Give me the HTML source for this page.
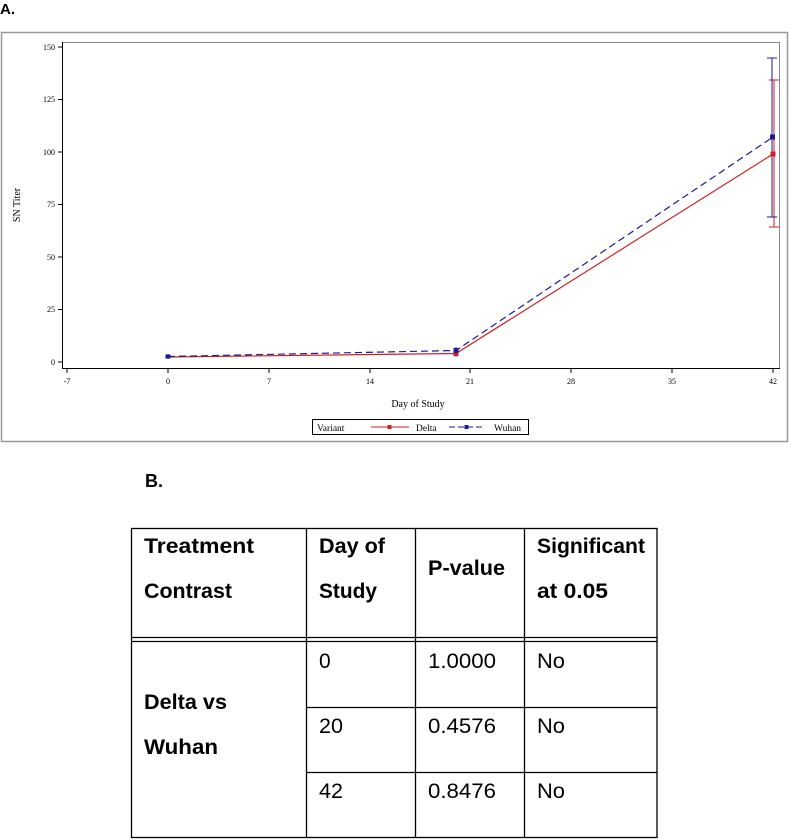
<!DOCTYPE html>
<html><head><meta charset="utf-8"><style>
html,body{margin:0;padding:0;background:#fff;}
svg{display:block;}
</style></head><body>
<svg width="790" height="839" viewBox="0 0 790 839" xmlns="http://www.w3.org/2000/svg">
<text x="0" y="14" font-family="Liberation Sans, sans-serif" font-weight="bold" font-size="15" fill="#000">A.</text>
<rect x="1.5" y="32.5" width="786" height="409" fill="none" stroke="#999" stroke-width="1.5"/>
<rect x="62.5" y="42.5" width="717" height="326" fill="none" stroke="#888" stroke-width="1"/>
<line x1="62.5" y1="42" x2="62.5" y2="369" stroke="#000"/>
<line x1="62" y1="368.5" x2="780" y2="368.5" stroke="#000"/>
<g font-family="Liberation Serif, serif" font-size="8" fill="#000">
<g stroke="#000">
<line x1="58" y1="47" x2="62" y2="47"/><line x1="58" y1="99.5" x2="62" y2="99.5"/><line x1="58" y1="152" x2="62" y2="152"/><line x1="58" y1="204.5" x2="62" y2="204.5"/><line x1="58" y1="257" x2="62" y2="257"/><line x1="58" y1="309.5" x2="62" y2="309.5"/><line x1="58" y1="362" x2="62" y2="362"/>
<line x1="67" y1="369" x2="67" y2="373"/><line x1="168" y1="369" x2="168" y2="373"/><line x1="269" y1="369" x2="269" y2="373"/><line x1="370" y1="369" x2="370" y2="373"/><line x1="470" y1="369" x2="470" y2="373"/><line x1="571" y1="369" x2="571" y2="373"/><line x1="672" y1="369" x2="672" y2="373"/><line x1="773" y1="369" x2="773" y2="373"/>
</g>
<g text-anchor="end"><text x="55" y="50">150</text><text x="55" y="102">125</text><text x="55" y="155">100</text><text x="55" y="207">75</text><text x="55" y="260">50</text><text x="55" y="312">25</text><text x="55" y="365">0</text></g>
<g text-anchor="middle"><text x="67" y="384">-7</text><text x="168" y="384">0</text><text x="269" y="384">7</text><text x="370" y="384">14</text><text x="470" y="384">21</text><text x="571" y="384">28</text><text x="672" y="384">35</text><text x="773" y="384">42</text></g>
<text x="418" y="407" text-anchor="middle" font-size="10">Day of Study</text>
<text transform="translate(20,205) rotate(-90)" text-anchor="middle" font-size="10">SN Titer</text>
</g>
<polyline points="168,357 456,353.5 773,154" fill="none" stroke="#d02020" stroke-width="1.2"/>
<polyline points="168,356.5 456,350.5 773,137" fill="none" stroke="#1a1a9a" stroke-width="1.2" stroke-dasharray="7,4"/>
<g stroke="#d02020" stroke-width="1"><line x1="774" y1="80" x2="774" y2="227"/><line x1="769" y1="80" x2="779" y2="80"/><line x1="769" y1="227" x2="779" y2="227"/><line x1="456" y1="350" x2="456" y2="357"/></g>
<g stroke="#1a1a9a" stroke-width="1"><line x1="772" y1="58" x2="772" y2="217"/><line x1="767" y1="58" x2="777" y2="58"/><line x1="767" y1="217" x2="777" y2="217"/><line x1="456" y1="347" x2="456" y2="354"/><line x1="168" y1="354" x2="168" y2="359"/></g>
<rect x="453.5" y="351" width="5" height="5" fill="#d02020"/><rect x="453.5" y="348" width="5" height="5" fill="#1a1a9a"/>
<rect x="165.5" y="354.5" width="5" height="4" fill="#1a1a9a"/>
<rect x="770.5" y="151.5" width="5" height="5" fill="#d02020"/><rect x="770" y="134.5" width="5" height="5" fill="#1a1a9a"/>
<rect x="312.5" y="419.5" width="216" height="15" fill="#fff" stroke="#000"/>
<g font-family="Liberation Serif, serif" font-size="9.5" fill="#000">
<text x="317" y="431">Variant</text><text x="416" y="431">Delta</text><text x="494" y="431">Wuhan</text>
</g>
<line x1="371" y1="427" x2="409" y2="427" stroke="#d02020"/><rect x="387.5" y="425" width="4" height="4" fill="#d02020"/>
<line x1="449" y1="427" x2="484" y2="427" stroke="#1a1a9a" stroke-dasharray="6,3"/><rect x="464.5" y="425" width="4" height="4" fill="#1a1a9a"/>
<text x="145" y="487" font-family="Liberation Sans, sans-serif" font-weight="bold" font-size="18">B.</text>
<g stroke="#000" stroke-width="1.3" fill="none">
<rect x="131.5" y="528.5" width="525.5" height="309"/>
<line x1="306.5" y1="528" x2="306.5" y2="838"/><line x1="415.5" y1="528" x2="415.5" y2="838"/><line x1="524.5" y1="528" x2="524.5" y2="838"/>
<line x1="131" y1="637.5" x2="657" y2="637.5"/><line x1="131" y1="641.5" x2="657" y2="641.5"/>
<line x1="306" y1="707.5" x2="657" y2="707.5"/><line x1="306" y1="772.5" x2="657" y2="772.5"/>
</g>
<g font-family="Liberation Sans, sans-serif" font-size="21" fill="#000" lengthAdjust="spacingAndGlyphs">
<g font-weight="bold">
<text x="144" y="553" textLength="110" lengthAdjust="spacingAndGlyphs">Treatment</text><text x="144" y="598" textLength="88" lengthAdjust="spacingAndGlyphs">Contrast</text>
<text x="319" y="553" textLength="66" lengthAdjust="spacingAndGlyphs">Day of</text><text x="319" y="598" textLength="58" lengthAdjust="spacingAndGlyphs">Study</text>
<text x="428" y="575" textLength="77" lengthAdjust="spacingAndGlyphs">P-value</text>
<text x="537" y="553" textLength="108" lengthAdjust="spacingAndGlyphs">Significant</text><text x="537" y="598" textLength="71" lengthAdjust="spacingAndGlyphs">at 0.05</text>
<text x="144" y="709" textLength="83" lengthAdjust="spacingAndGlyphs">Delta vs</text><text x="144" y="754" textLength="74" lengthAdjust="spacingAndGlyphs">Wuhan</text>
</g>
<text x="319" y="668">0</text><text x="319" y="733" textLength="24" lengthAdjust="spacingAndGlyphs">20</text><text x="319" y="798" textLength="24" lengthAdjust="spacingAndGlyphs">42</text>
<text x="428" y="668" textLength="68" lengthAdjust="spacingAndGlyphs">1.0000</text><text x="428" y="733" textLength="68" lengthAdjust="spacingAndGlyphs">0.4576</text><text x="428" y="798" textLength="68" lengthAdjust="spacingAndGlyphs">0.8476</text>
<text x="537" y="668" textLength="28" lengthAdjust="spacingAndGlyphs">No</text><text x="537" y="733" textLength="28" lengthAdjust="spacingAndGlyphs">No</text><text x="537" y="798" textLength="28" lengthAdjust="spacingAndGlyphs">No</text>
</g>
</svg>
</body></html>
